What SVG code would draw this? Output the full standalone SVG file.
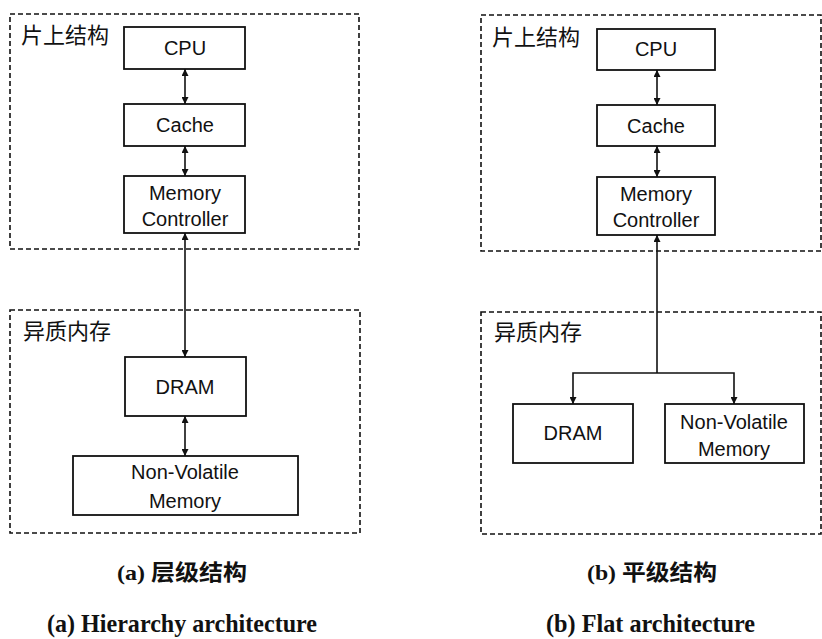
<svg xmlns="http://www.w3.org/2000/svg" width="822" height="639" viewBox="0 0 822 639">
<style>
.grp{fill:none;stroke:#111;stroke-width:1.6;stroke-dasharray:5 3}
.box{fill:#fff;stroke:#111;stroke-width:1.8}
.t{font-family:"Liberation Sans","Noto Sans CJK SC",sans-serif;font-size:20px;fill:#111;text-anchor:middle}
.lbl{font-family:"Noto Sans CJK SC",sans-serif;font-size:22px;fill:#111}
.cap{font-family:"Liberation Serif","Noto Sans CJK SC",serif;font-weight:bold;fill:#111}
.zh{font-size:22px}
.en{font-size:26px}
.c{fill:none;stroke:#111;stroke-width:1.6}
</style>
<defs>
<marker id="ah" viewBox="0 0 10 10" refX="10" refY="5" markerWidth="7" markerHeight="7" markerUnits="userSpaceOnUse" orient="auto-start-reverse">
<path d="M0,0 L10,5 L0,10 z" fill="#111"/>
</marker>
</defs>
<g id="left-onchip"><rect class="grp" x="10" y="14" width="349" height="235"/><text class="lbl" x="21" y="43">片上结构</text></g>
<g id="left-hetero"><rect class="grp" x="10" y="310" width="350" height="223"/><text class="lbl" x="23" y="339">异质内存</text></g>
<g id="right-onchip"><rect class="grp" x="481" y="15" width="340" height="236"/><text class="lbl" x="492" y="45">片上结构</text></g>
<g id="right-hetero"><rect class="grp" x="481" y="312" width="340" height="222"/><text class="lbl" x="494" y="340">异质内存</text></g>

<g id="a-cpu"><rect class="box" x="124" y="27" width="121" height="42"/><text class="t" x="185" y="55">CPU</text></g>
<g id="a-cache"><rect class="box" x="124" y="104" width="121" height="42"/><text class="t" x="185" y="132">Cache</text></g>
<g id="a-mc"><rect class="box" x="124" y="176" width="121" height="57"/><text class="t" x="185" y="200">Memory</text><text class="t" x="185" y="226">Controller</text></g>
<g id="a-dram"><rect class="box" x="125" y="357" width="121" height="59"/><text class="t" x="185" y="394">DRAM</text></g>
<g id="a-nvm"><rect class="box" x="73" y="456" width="225" height="59"/><text class="t" x="185" y="479">Non-Volatile</text><text class="t" x="185" y="508">Memory</text></g>

<g id="b-cpu"><rect class="box" x="597" y="29" width="118" height="41"/><text class="t" x="656" y="56">CPU</text></g>
<g id="b-cache"><rect class="box" x="597" y="105" width="118" height="41"/><text class="t" x="656" y="133">Cache</text></g>
<g id="b-mc"><rect class="box" x="597" y="177" width="118" height="58"/><text class="t" x="656" y="201">Memory</text><text class="t" x="656" y="227">Controller</text></g>
<g id="b-dram"><rect class="box" x="513" y="404" width="120" height="59"/><text class="t" x="573" y="440">DRAM</text></g>
<g id="b-nvm"><rect class="box" x="665" y="404" width="139" height="59"/><text class="t" x="734" y="429">Non-Volatile</text><text class="t" x="734" y="456">Memory</text></g>

<g id="connectors">
<line class="c" x1="185" y1="69" x2="185" y2="104" marker-start="url(#ah)" marker-end="url(#ah)"/>
<line class="c" x1="185" y1="146" x2="185" y2="176" marker-start="url(#ah)" marker-end="url(#ah)"/>
<line class="c" x1="185" y1="233" x2="185" y2="357" marker-start="url(#ah)" marker-end="url(#ah)"/>
<line class="c" x1="185" y1="416" x2="185" y2="456" marker-start="url(#ah)" marker-end="url(#ah)"/>
<line class="c" x1="657" y1="70" x2="657" y2="105" marker-start="url(#ah)" marker-end="url(#ah)"/>
<line class="c" x1="657" y1="146" x2="657" y2="177" marker-start="url(#ah)" marker-end="url(#ah)"/>
<line class="c" x1="657" y1="373" x2="657" y2="235" marker-end="url(#ah)"/>
<polyline class="c" points="573,404 573,373 734,373 734,404" marker-start="url(#ah)" marker-end="url(#ah)"/>
</g>

<g id="captions">
<text class="cap zh" x="117" y="580" textLength="130" lengthAdjust="spacingAndGlyphs">(a) 层级结构</text>
<text class="cap zh" x="587" y="580" textLength="130" lengthAdjust="spacingAndGlyphs">(b) 平级结构</text>
<text class="cap en" x="47" y="632" textLength="270" lengthAdjust="spacingAndGlyphs">(a) Hierarchy architecture</text>
<text class="cap en" x="546" y="632" textLength="209" lengthAdjust="spacingAndGlyphs">(b) Flat architecture</text>
</g>
</svg>
